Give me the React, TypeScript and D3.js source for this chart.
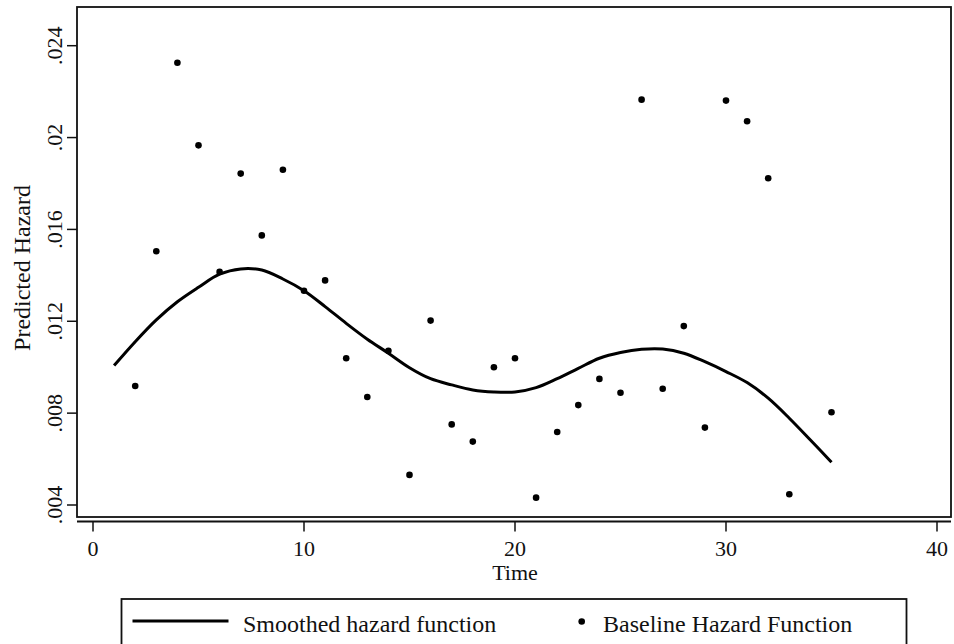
import React from 'react';
import * as d3 from 'd3';

// baseline hazard at each time point (no estimate at t=1 and t=34)
const baseTimes = [2, 3, 4, 5, 6, 7, 8, 9, 10, 11, 12, 13, 14, 15, 16, 17, 18, 19, 20, 21, 22, 23, 24, 25, 26, 27, 28, 29, 30, 31, 32, 33, 35];
const baseHazard = [
  0.00918, 0.01505, 0.02326, 0.01966, 0.01415, 0.01843, 0.01574, 0.0186, 0.01333, 0.01378,
  0.01039, 0.0087, 0.01072, 0.00531, 0.01203, 0.00751, 0.00676, 0.01, 0.01039, 0.00432,
  0.00718, 0.00835, 0.00949, 0.00889, 0.02165, 0.00906, 0.01179, 0.00737, 0.02161, 0.02071,
  0.01823, 0.00447, 0.00804,
];

// smoothed hazard, t = 1..35
const smoothTimes = d3.range(1, 36);
const smoothHazard = [
  0.01007, 0.01111, 0.01206, 0.01285, 0.01348, 0.01405, 0.01428, 0.01423, 0.01384, 0.01333,
  0.01264, 0.01191, 0.01122, 0.01061, 0.00998, 0.0095, 0.00923, 0.00901, 0.00892, 0.00892,
  0.00911, 0.0095, 0.00995, 0.01039, 0.01064, 0.01078, 0.01079, 0.01061, 0.01024, 0.00981,
  0.00933, 0.00865, 0.00778, 0.00683, 0.00586,
];

const xTicks = [0, 10, 20, 30, 40];
const yTicks = [0.004, 0.008, 0.012, 0.016, 0.02, 0.024];
const xTitle = 'Time';
const yTitle = 'Predicted Hazard';
const legendLabels = ['Smoothed hazard function', 'Baseline Hazard Function'];

const W = 954;
const H = 644;
const box = { left: 77, top: 7, right: 951, bottom: 517 };
const font = '"Liberation Serif", "Times New Roman", serif';

const fmtY = (v: number) => String(v).replace(/^0/, '');

export default function App() {
  const x = d3.scaleLinear().domain([0, 40]).range([93, 937]);
  const y = d3.scaleLinear().domain([0.004, 0.024]).range([505, 45.7]);

  const line = d3.line<number>()
    .x((_, i) => x(smoothTimes[i]))
    .y(d => y(d))
    .curve(d3.curveCatmullRom.alpha(0.5));

  const axisY = 521.5;

  return (
    <svg width={W} height={H} style={{ position: 'absolute', left: 0, top: 0, background: '#fff' }} fontFamily={font}>
      <rect x={0} y={0} width={W} height={H} fill="#fff" />

      {/* plot region */}
      <rect x={box.left} y={box.top} width={box.right - box.left} height={box.bottom - box.top}
        fill="none" stroke="#111" strokeWidth={1.8} />

      {/* y axis ticks + labels */}
      {yTicks.map(v => (
        <g key={v}>
          <line x1={67} x2={box.left} y1={y(v)} y2={y(v)} stroke="#111" strokeWidth={1.5} />
          <text transform={`translate(62,${y(v)}) rotate(-90)`} textAnchor="middle" fontSize={22} fill="#111">
            {fmtY(v)}
          </text>
        </g>
      ))}
      <text transform={`translate(30,${(box.top + box.bottom) / 2 + 6}) rotate(-90)`} textAnchor="middle"
        fontSize={24} fill="#111">{yTitle}</text>

      {/* x axis */}
      <line x1={box.left} x2={box.right} y1={axisY} y2={axisY} stroke="#111" strokeWidth={1.8} />
      {xTicks.map(v => (
        <g key={v}>
          <line x1={x(v)} x2={x(v)} y1={axisY} y2={531.5} stroke="#111" strokeWidth={1.5} />
          <text x={x(v)} y={556} textAnchor="middle" fontSize={22} fill="#111">{v}</text>
        </g>
      ))}
      <text x={x(20)} y={580} textAnchor="middle" fontSize={22} fill="#111">{xTitle}</text>

      {/* smoothed line */}
      <path d={line(smoothHazard) || ''} fill="none" stroke="#000" strokeWidth={3} strokeLinejoin="round" />

      {/* baseline points */}
      {baseHazard.map((v, i) => (
        <circle key={i} cx={x(baseTimes[i])} cy={y(v)} r={3.3} fill="#000" />
      ))}

      {/* legend */}
      <rect x={121.5} y={599} width={785} height={60} fill="#fff" stroke="#111" strokeWidth={1.8} />
      <line x1={132.5} x2={228.5} y1={621} y2={621} stroke="#000" strokeWidth={3} />
      <text x={243} y={631.5} fontSize={24} fill="#111">{legendLabels[0]}</text>
      <circle cx={581.7} cy={621.5} r={3.3} fill="#000" />
      <text x={603} y={631.5} fontSize={24} fill="#111">{legendLabels[1]}</text>
    </svg>
  );
}
